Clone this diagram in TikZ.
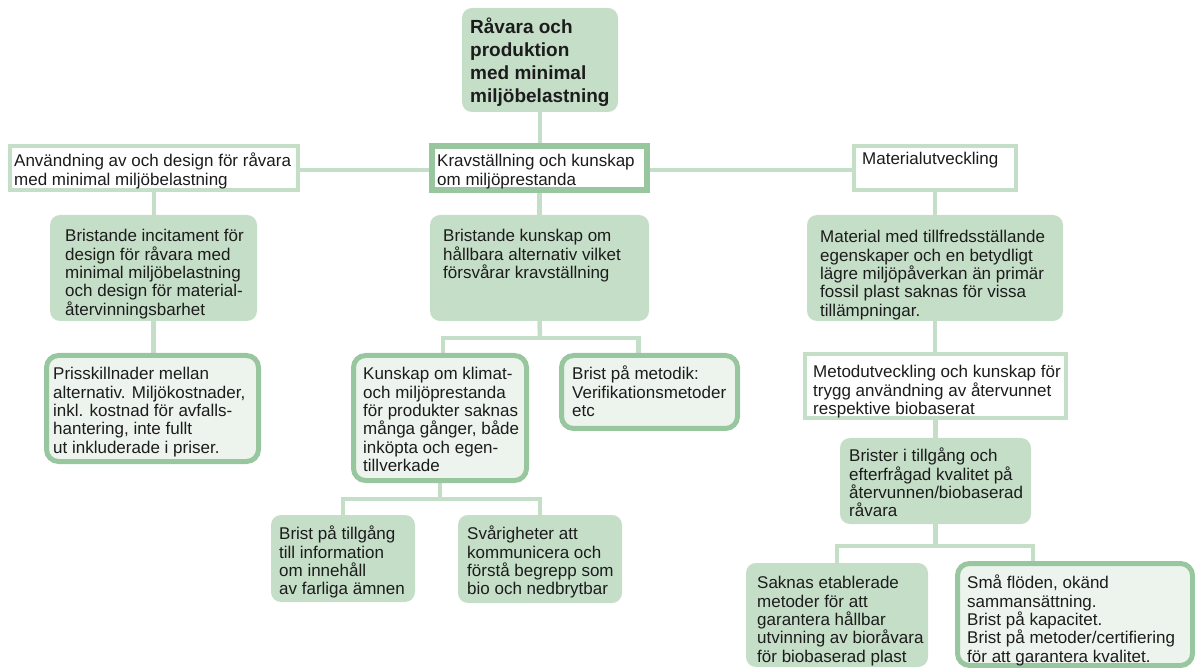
\documentclass[tikz,border=0pt]{standalone}
\usepackage{fontspec}
\setmainfont{Liberation Sans}
\usetikzlibrary{fit}
\definecolor{sage}{RGB}{197,222,200}
\definecolor{sagedark}{RGB}{152,198,159}
\definecolor{sagepale}{RGB}{237,244,237}
\definecolor{ink}{RGB}{28,28,28}
\pgfdeclarelayer{bg}
\pgfsetlayers{bg,main}
% fixed height for the first line of every text block
\newcommand\fline{\rule{0pt}{14pt}}
\newcommand\tline{\rule{0pt}{15.5pt}}
\begin{document}
\begin{tikzpicture}[x=1pt,y=-1pt,
  conn/.style={draw=sage,line width=4.5pt},
  fillbox/.style={draw=none,fill=sage,rounded corners=10pt,inner sep=0pt},
  paleframe/.style={draw=sagedark,fill=sagepale,line width=5pt,rounded corners=12pt,inner sep=0pt},
  whiteframe/.style={draw=sage,fill=white,line width=4.5pt,inner sep=0pt},
  darkframe/.style={draw=sagedark,fill=white,line width=5.5pt,inner sep=0pt},
  txt/.style={anchor=north west,inner sep=0pt,align=left,text=ink,font=\fontsize{17}{18.4}\selectfont},
  ttl/.style={anchor=north west,inner sep=0pt,align=left,text=ink,font=\fontsize{19}{23}\selectfont\bfseries}]
\useasboundingbox (0,0) rectangle (1195,668);

% ---- boxes ----
\node[fillbox,fit={(462,8) (618,112)}] (t) {};
\node[whiteframe,fit={(10,146) (298,190)}] (a) {};
\node[darkframe,fit={(432,146) (647,190)}] (b) {};
\node[whiteframe,fit={(854,146) (1016,190)}] (c) {};

\node[fillbox,fit={(50,215) (257,321)}] (l1) {};
\node[paleframe,fit={(46.5,355.5) (258.5,461.5)}] (l2) {};

\node[fillbox,fit={(430,215) (649,321)}] (m1) {};
\node[paleframe,fit={(353.5,355.5) (526.5,480.5)}] (m2) {};
\node[paleframe,fit={(561.5,355.5) (737.5,428.5)}] (m3) {};
\node[fillbox,fit={(271,515) (415,602)}] (g1) {};
\node[fillbox,fit={(458,515) (622,603)}] (g2) {};

\node[fillbox,fit={(807,215) (1063,321)}] (r1) {};
\node[whiteframe,fit={(805,354) (1066,418)}] (r2) {};
\node[fillbox,fit={(840,438) (1031,524)}] (r3) {};
\node[fillbox,fit={(746,563) (928,667)}] (r4) {};
\node[paleframe,fit={(957.5,563.5) (1192.5,665.5)}] (r5) {};

% ---- texts ----
\node[ttl] (tt) at (470,18) {\tline Råvara och\\produktion\\med minimal\\miljöbelastning};
\node[txt] (at) at (14,152.5) {\fline Användning av och design för råvara\\med minimal miljöbelastning};
\node[txt] (bt) at (437,152.5) {\fline Kravställning och kunskap\\om miljöprestanda};
\node[txt] (ct) at (862,150.5) {\fline Materialutveckling};

\node[txt] (l1t) at (65,227.5) {\fline Bristande incitament för\\design för råvara med\\minimal miljöbelastning\\och design för material-\\återvinningsbarhet};
\node[txt] (l2t) at (53,365.5) {\fline Prisskillnader mellan\\alternativ. Miljökostnader,\\inkl. kostnad för avfalls-\\hantering, inte fullt\\ut inkluderade i priser.};

\node[txt] (m1t) at (443,227.5) {\fline Bristande kunskap om\\hållbara alternativ vilket\\försvårar kravställning};
\node[txt] (m2t) at (363,365.5) {\fline Kunskap om klimat-\\och miljöprestanda\\för produkter saknas\\många gånger, både\\inköpta och egen-\\tillverkade};
\node[txt] (m3t) at (572,365.5) {\fline Brist på metodik:\\Verifikationsmetoder\\etc};
\node[txt] (g1t) at (279,525.5) {\fline Brist på tillgång\\till information\\om innehåll\\av farliga ämnen};
\node[txt] (g2t) at (467,525.5) {\fline Svårigheter att\\kommunicera och\\förstå begrepp som\\bio och nedbrytbar};

\node[txt] (r1t) at (820,228.5) {\fline Material med tillfredsställande\\egenskaper och en betydligt\\lägre miljöpåverkan än primär\\fossil plast saknas för vissa\\tillämpningar.};
\node[txt] (r2t) at (813,363.5) {\fline Metodutveckling och kunskap för\\trygg användning av återvunnet\\respektive biobaserat};
\node[txt] (r3t) at (849,447.5) {\fline Brister i tillgång och\\efterfrågad kvalitet på\\återvunnen/biobaserad\\råvara};
\node[txt] (r4t) at (757,574.5) {\fline Saknas etablerade\\metoder för att\\garantera hållbar\\utvinning av bioråvara\\för biobaserad plast};
\node[txt] (r5t) at (967,574.5) {\fline Små flöden, okänd\\sammansättning.\\Brist på kapacitet.\\Brist på metoder/certifiering\\för att garantera kvalitet.};

% ---- connectors ----
\begin{pgfonlayer}{bg}
\draw[conn] (t.south) -- (t.south |- b.north);
\draw[conn] ([yshift=-2pt]a.east) -- ([yshift=-2pt]a.east -| b.west);
\draw[conn] ([yshift=-2pt]b.east) -- ([yshift=-2pt]b.east -| c.west);
\draw[conn] (a.south) -- (a.south |- l1.north);
\draw[conn] (l1.south) -- (l1.south |- l2.north);
\draw[conn] (b.south) -- (b.south |- m1.north);
\coordinate (mj) at (540,338);
\draw[conn] (m1.south) -- (mj);
\draw[conn] ([xshift=3pt]m2.north) |- (mj) -| ([xshift=-11pt]m3.north);
\coordinate (gj) at (440,499);
\draw[conn] (m2.south) -- (gj);
\draw[conn] (g1.north) |- (gj) -| (g2.north);
\draw[conn] (c.south) -- (c.south |- r1.north);
\draw[conn] (r1.south) -- (r1.south |- r2.north);
\draw[conn] (r2.south) -- (r2.south |- r3.north);
\coordinate (rj) at (935.5,546);
\draw[conn] (r3.south) -- (rj);
\draw[conn] (r4.north) |- (rj) -| ([xshift=-42pt]r5.north);
\end{pgfonlayer}
\end{tikzpicture}
\end{document}
